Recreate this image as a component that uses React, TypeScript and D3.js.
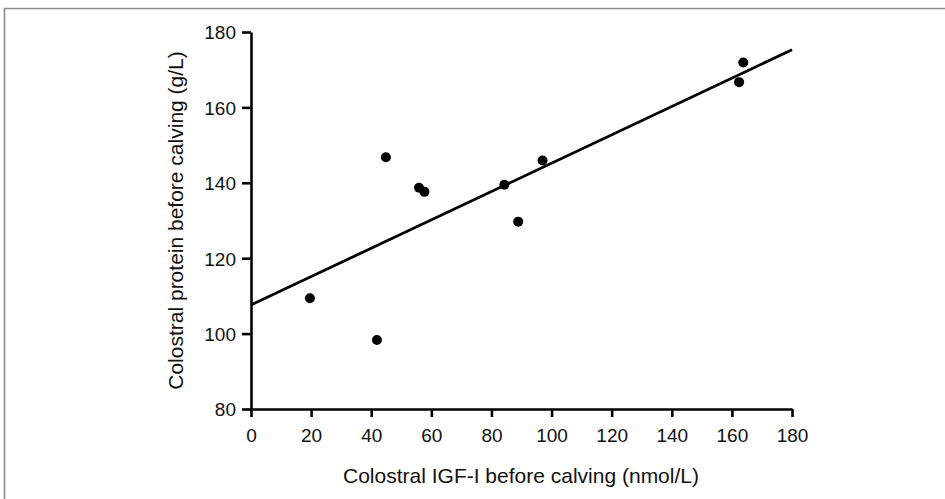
import React, { useEffect, useRef } from 'react'
import * as d3 from 'd3'

// IGF-I (nmol/L) vs protein (g/L)
const igfValues = [19.6, 41.9, 44.9, 55.9, 57.7, 84.3, 88.9, 97.0, 162.4, 163.8]
const proteinValues = [109.4, 98.3, 146.8, 138.7, 137.6, 139.5, 129.7, 145.9, 166.7, 171.9]

// fitted line, end points
const fitX = [0, 180]
const fitY = [107.6, 175.3]

const xTicks = [0, 20, 40, 60, 80, 100, 120, 140, 160, 180]
const yTicks = [80, 100, 120, 140, 160, 180]

const xTitle = 'Colostral IGF-I before calving (nmol/L)'
const yTitle = 'Colostral protein before calving (g/L)'

const W = 945
const H = 499
const FONT = 'Liberation Sans, Arial, sans-serif'

function ScatterChart() {
    const ref = useRef<SVGSVGElement>(null)

    useEffect(() => {
        const svg = d3.select(ref.current)
        svg.selectAll('*').remove()

        // page frame (top + left edge of the scan)
        svg.append('path')
            .attr('d', `M4.5,${H} L4.5,8.5 L${W},8.5`)
            .attr('fill', 'none')
            .attr('stroke', '#8a8a8a')
            .attr('stroke-width', 1.6)

        const x = d3.scaleLinear().domain([0, 180]).range([251, 792])
        const y = d3.scaleLinear().domain([80, 180]).range([409, 32])

        const g = svg.append('g')

        // x axis
        const xAxis = g.append('g')
            .attr('transform', `translate(0,${y(80)})`)
            .call(d3.axisBottom(x).tickValues(xTicks).tickSize(8).tickSizeOuter(0).tickPadding(12))
        // y axis
        const yAxis = g.append('g')
            .attr('transform', `translate(${x(0)},0)`)
            .call(d3.axisLeft(y).tickValues(yTicks).tickSize(9).tickSizeOuter(0).tickPadding(6))

        for (const ax of [xAxis, yAxis]) {
            ax.select('.domain').attr('stroke', '#000').attr('stroke-width', 2.6)
            ax.selectAll('.tick line').attr('stroke', '#000').attr('stroke-width', 2.6)
            ax.selectAll('.tick text')
                .attr('fill', '#111')
                .style('font-family', FONT)
                .style('font-size', '19px')
        }
        yAxis.selectAll('.tick text').attr('dy', '0.36em')

        // regression line
        const line = d3.line<number>()
            .x((d, i) => x(fitX[i]))
            .y(d => y(d))
        g.append('path')
            .datum(fitY)
            .attr('d', line)
            .attr('fill', 'none')
            .attr('stroke', '#000')
            .attr('stroke-width', 2.8)

        // points
        g.append('g')
            .selectAll('circle')
            .data(igfValues)
            .join('circle')
            .attr('cx', d => x(d))
            .attr('cy', (d, i) => y(proteinValues[i]))
            .attr('r', 5)
            .attr('fill', '#000')

        // axis titles
        svg.append('text')
            .attr('x', 521)
            .attr('y', 483)
            .attr('text-anchor', 'middle')
            .style('font-family', FONT)
            .style('font-size', '21px')
            .attr('fill', '#111')
            .text(xTitle)

        svg.append('text')
            .attr('transform', `translate(183,${(y(80) + y(180)) / 2}) rotate(-90)`)
            .attr('text-anchor', 'middle')
            .style('font-family', FONT)
            .style('font-size', '21px')
            .attr('fill', '#111')
            .text(yTitle)
    }, [])

    return <svg ref={ref} width={W} height={H} style={{ display: 'block', background: '#fff' }} />
}

export default function App() {
    return (
        <div style={{ position: 'absolute', left: 0, top: 0 }}>
            <ScatterChart />
        </div>
    )
}
